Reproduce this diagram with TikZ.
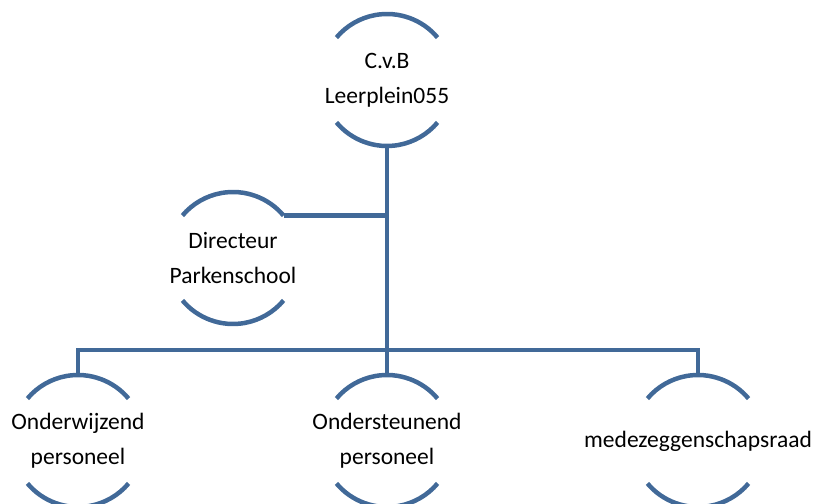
\documentclass[tikz,border=0pt]{standalone}
\usepackage{fontspec}
\setmainfont{Carlito}
\usetikzlibrary{calc}
\definecolor{orgblue}{RGB}{65,105,152}
\begin{document}
\begin{tikzpicture}[x=1pt,y=1pt]
\tikzstyle{every node}+=[inner sep=0pt]
\tikzstyle{unit}=[circle, minimum size=132pt, outer sep=0pt]
\tikzstyle{rim}=[orgblue, line width=4.5pt]
\tikzstyle{caption}=[align=center, font=\fontsize{23.5}{35}\selectfont]
\useasboundingbox (0,0) rectangle (815,504);
\node [unit, label={[caption]center:C.v.B\\Leerplein055}] (cvb) at (387,424) {};
\node [unit, label={[caption]center:Directeur\\Parkenschool}] (dir) at (233,246) {};
\node [unit, label={[caption]center:Onderwijzend\\personeel}] (ow) at (78,63) {};
\node [unit, label={[caption]center:Ondersteunend\\personeel}] (os) at (387,63) {};
\node [unit, label={[caption]center:medezeggenschapsraad}] (mzr) at (698,63) {};
\foreach \n in {cvb,dir,ow,os,mzr} {
\draw [rim] (\n.40) arc (40:140:66);
\draw [rim] (\n.220) arc (220:320:66);
}
\coordinate (bar) at (387,154);
\draw [rim] (cvb.south) -- (bar);
\draw [rim] (dir.40) -- (dir.40 -| cvb.south);
\draw [rim] (ow.north) |- (bar) -| (mzr.north);
\draw [rim] (bar) -- (os.north);
\end{tikzpicture}
\end{document}
